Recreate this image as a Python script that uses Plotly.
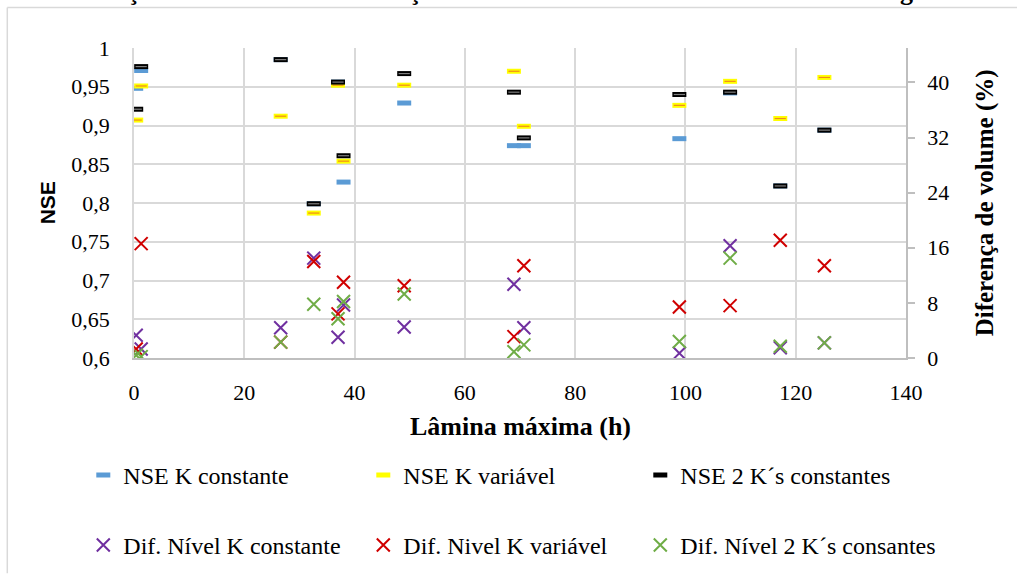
import plotly.graph_objects as go

# Lâmina máxima (h) of each event
lamina = [0.4, 1.3, 26.6, 32.6, 37.0, 38.0, 49.0, 68.9, 70.7, 98.9, 108.1, 117.2, 125.2]

# NSE for each calibration approach (left axis)
nse_k_const = [0.948, 0.971, 0.985, 0.799, 0.956, 0.827, 0.929, 0.874, 0.874, 0.883, 0.942, 0.822, 0.894]
nse_k_var = [0.907, 0.951, 0.912, 0.787, 0.952, 0.854, 0.952, 0.970, 0.899, 0.926, 0.957, 0.909, 0.962]
nse_2k_const = [0.921, 0.976, 0.985, 0.799, 0.956, 0.861, 0.967, 0.943, 0.884, 0.940, 0.943, 0.822, 0.894]

# Level difference (%) for each approach (right axis)
dif_k_const = [3.3, 1.3, 4.4, 14.5, 3.0, 7.7, 4.5, 10.7, 4.4, 0.7, 16.3, 1.5, 2.2]
dif_k_var = [1.3, 16.6, 2.3, 14.0, 6.4, 11.0, 10.5, 3.1, 13.4, 7.4, 7.6, 17.1, 13.4]
dif_2k_const = [0.4, 0.2, 2.3, 7.8, 5.7, 8.2, 9.3, 0.9, 1.9, 2.4, 14.5, 1.7, 2.2]

# Tick labels
x_ticks = [0, 20, 40, 60, 80, 100, 120, 140]
nse_ticks = [0.6, 0.65, 0.7, 0.75, 0.8, 0.85, 0.9, 0.95, 1.0]
nse_tick_text = ["0,6", "0,65", "0,7", "0,75", "0,8", "0,85", "0,9", "0,95", "1"]
dif_ticks = [0, 8, 16, 24, 32, 40]

SERIF = "Liberation Serif, Times New Roman, serif"
GRID = "#d9d9d9"
AXIS = "#bfbfbf"

# plot-area geometry in pixels, used to place legends and frame
L, R, T, B = 133.7, 111.3, 47.7, 215.7
PW, PH = 1017 - L - R, 574 - T - B


def px_x(p):
    return (p - L) / PW


def px_y(p):
    return (574 - B - p) / PH


fig = go.Figure()


def dash_trace(y, name, outer, inner, legend):
    fig.add_trace(go.Scatter(
        x=lamina, y=y, name=name, mode="markers", legend=legend,
        marker=dict(symbol="line-ew", size=10, line=dict(color=outer, width=5)),
    ))
    if inner:
        fig.add_trace(go.Scatter(
            x=lamina, y=y, mode="markers", showlegend=False, hoverinfo="skip",
            marker=dict(symbol="line-ew", size=8, line=dict(color=inner, width=1.2)),
        ))


def cross_trace(y, name, color, legend):
    fig.add_trace(go.Scatter(
        x=lamina, y=y, name=name, mode="markers", yaxis="y2", legend=legend,
        marker=dict(symbol="x-thin", size=13, line=dict(color=color, width=2)),
    ))


dash_trace(nse_k_const, "NSE K constante", "#5b9bd5", None, "legend")
dash_trace(nse_k_var, "NSE K variável", "#ffff00", "#f08a1c", "legend2")
dash_trace(nse_2k_const, "NSE 2 K´s constantes", "#000000", "#7f7f7f", "legend3")

cross_trace(dif_k_const, "Dif. Nível K constante", "#7030a0", "legend4")
cross_trace(dif_k_var, "Dif. Nivel K variável", "#d00000", "legend5")
cross_trace(dif_2k_const, "Dif. Nível 2 K´s consantes", "#70ad47", "legend6")

tick_font = dict(family=SERIF, size=22, color="#000000")


def legend_at(text_left, row_center):
    return dict(
        x=px_x(text_left - 40), y=px_y(row_center), xanchor="left", yanchor="middle",
        font=dict(family=SERIF, size=24, color="#000000"),
        bgcolor="rgba(0,0,0,0)", itemwidth=30,
    )


fig.update_layout(
    width=1017, height=574,
    margin=dict(l=L, r=R, t=T, b=B, autoexpand=False),
    paper_bgcolor="white", plot_bgcolor="white",
    font=dict(family=SERIF, color="#000000"),
    showlegend=True,
    xaxis=dict(
        range=[0, 140], tickvals=x_ticks, showgrid=True, gridcolor=GRID, gridwidth=1.5,
        zeroline=False, showline=True, linecolor=AXIS, linewidth=1.5,
        ticks="", tickfont=dict(tick_font), ticklabelstandoff=14,
    ),
    yaxis=dict(
        range=[0.6, 1.0], tickvals=nse_ticks, ticktext=nse_tick_text,
        showgrid=True, gridcolor=GRID, gridwidth=1.5, zeroline=False,
        showline=True, linecolor=GRID, linewidth=1.5, ticks="",
        tickfont=dict(tick_font), ticklabelstandoff=18,
    ),
    yaxis2=dict(
        range=[0, 45], tickvals=dif_ticks, overlaying="y", side="right",
        showgrid=False, zeroline=False, showline=True, linecolor=AXIS, linewidth=1.5,
        ticks="outside", ticklen=7, tickcolor=AXIS, tickwidth=1.5,
        tickfont=dict(tick_font), ticklabelstandoff=8,
    ),
    legend=legend_at(123, 476),
    legend2=legend_at(403, 476),
    legend3=legend_at(680, 476),
    legend4=legend_at(123, 546),
    legend5=legend_at(403, 546),
    legend6=legend_at(680, 546),
    annotations=[
        dict(text="<b>Lâmina máxima (h)</b>", xref="paper", yref="paper", x=0.5, y=px_y(427),
             xanchor="center", yanchor="middle", showarrow=False,
             font=dict(family=SERIF, size=26, color="#000000")),
        dict(text="<b>NSE</b>", xref="paper", yref="paper", x=px_x(47), y=0.5, textangle=-90,
             xanchor="center", yanchor="middle", showarrow=False,
             font=dict(family="Liberation Sans", size=21, color="#000000")),
        dict(text="<b>Diferença de volume (%)</b>", xref="paper", yref="paper", x=px_x(985), y=0.5,
             textangle=-90, xanchor="center", yanchor="middle", showarrow=False,
             font=dict(family=SERIF, size=25, color="#000000")),
        dict(text="<b>Relação entre NSE e a diferença de volume estabilizado com a lâmina da água</b>",
             xref="paper", yref="paper", x=0.485, y=px_y(8), xanchor="center", yanchor="bottom",
             showarrow=False, font=dict(family=SERIF, size=26, color="#000000")),
    ],
    shapes=[
        dict(type="line", xref="paper", yref="paper", x0=px_x(7), x1=px_x(1017),
             y0=px_y(7), y1=px_y(7), line=dict(color=GRID, width=1.5)),
        dict(type="line", xref="paper", yref="paper", x0=px_x(7), x1=px_x(7),
             y0=px_y(7), y1=px_y(574), line=dict(color=GRID, width=1.5)),
    ],
)

fig.write_html("out.html")
